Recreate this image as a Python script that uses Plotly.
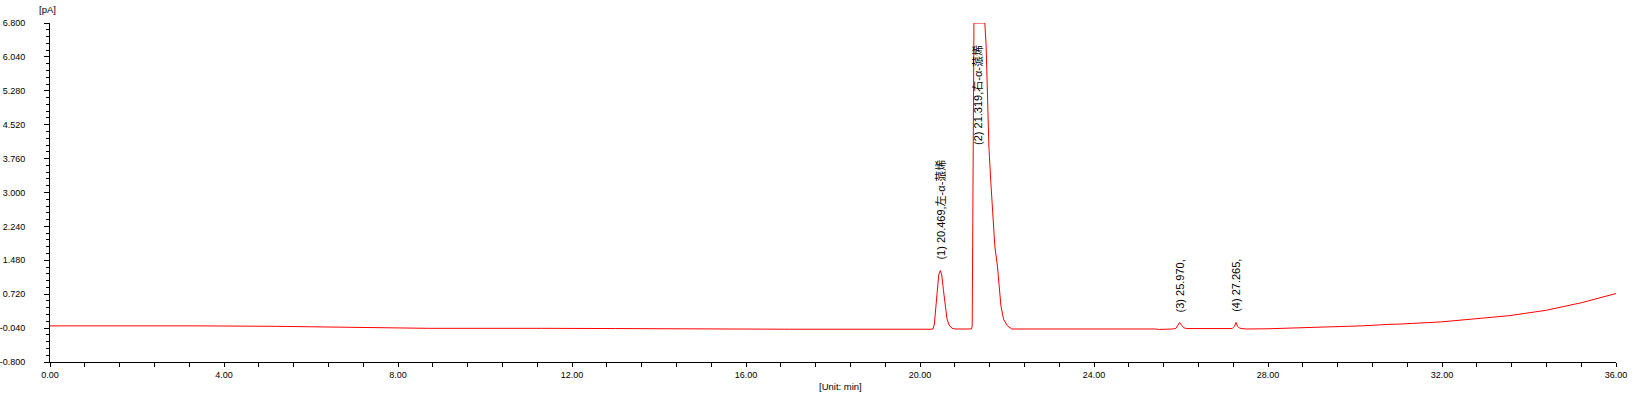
import plotly.graph_objects as go

# ---- data ----
time_min = [
    0.0, 1.0, 2.0, 3.3, 3.35, 3.4, 5.2, 6.6, 7.0, 8.0, 8.7, 10.0, 11.0, 11.3, 13.0, 15.2, 17.0, 20.25,
    20.30, 20.33, 20.36, 20.40, 20.43, 20.469, 20.50, 20.54, 20.58, 20.62, 20.67, 20.73, 20.80,
    21.18, 21.20, 21.21, 21.22, 21.24, 21.319, 21.49, 21.52, 21.55, 21.585, 21.63, 21.67, 21.72,
    21.78, 21.82, 21.86, 21.92, 22.01, 22.11,
    23.3, 23.4, 23.5, 25.4, 25.5, 25.7, 25.8,
    25.88, 25.93, 25.97, 26.01, 26.06, 26.12, 26.3,
    27.18, 27.23, 27.265, 27.30, 27.35, 27.40, 27.5, 28.0,
    28.74, 29.58, 30.18, 30.76, 31.03, 31.99, 32.8, 33.56, 34.4, 35.21, 36.0,
]
signal_pA = [
    0.01, 0.01, 0.01, 0.01, 0.02, 0.01, 0.0, -0.02, -0.02, -0.03, -0.045, -0.045, -0.04, -0.045, -0.05, -0.065, -0.065, -0.065,
    -0.06, 0.05, 0.35, 0.85, 1.15, 1.25, 1.15, 0.80, 0.42, 0.17, 0.03, -0.04, -0.06,
    -0.06, 0.0, 2.0, 5.0, 6.8, 6.8, 6.8, 6.3, 5.1, 4.0, 3.2, 2.55, 1.8,
    1.35, 0.9, 0.46, 0.16, 0.01, -0.06,
    -0.06, -0.05, -0.06, -0.06, -0.07, -0.07, -0.06,
    -0.05, 0.02, 0.087, 0.03, -0.03, -0.05, -0.05,
    -0.05, 0.0, 0.087, 0.0, -0.04, -0.05, -0.06, -0.055,
    -0.035, -0.002, 0.011, 0.043, 0.05, 0.10, 0.17, 0.24, 0.36, 0.53, 0.735,
]

peak_labels = ["(1) 20.469,左-α-蒎烯", "(2) 21.319,右-α-蒎烯", "(3) 25.970,", "(4) 27.265,"]
peak_times = [20.469, 21.319, 25.970, 27.265]
peak_label_base = [1.46, 4.03, 0.27, 0.27]

x_tick_vals = [0, 4, 8, 12, 16, 20, 24, 28, 32, 36]
x_tick_labels = ["0.00", "4.00", "8.00", "12.00", "16.00", "20.00", "24.00", "28.00", "32.00", "36.00"]
y_tick_vals = [-0.8, -0.04, 0.72, 1.48, 2.24, 3.0, 3.76, 4.52, 5.28, 6.04, 6.8]
y_tick_labels = ["-0.800", "-0.040", "0.720", "1.480", "2.240", "3.000", "3.760", "4.520", "5.280", "6.040", "6.800"]

FONT = "Liberation Sans, Arial, Noto Sans CJK SC, sans-serif"

fig = go.Figure()
fig.add_trace(go.Scatter(
    x=time_min, y=signal_pA, mode="lines",
    line=dict(color="#ff0000", width=1), hoverinfo="skip", showlegend=False,
))

for txt, t, yb in zip(peak_labels, peak_times, peak_label_base):
    fig.add_annotation(
        x=t, y=yb, xref="x", yref="y", text=txt, showarrow=False,
        textangle=-90, xanchor="center", yanchor="bottom",
        font=dict(family=FONT, size=11, color="#000000"),
    )

fig.add_annotation(x=-0.0013, y=1.041, xref="paper", yref="paper", text="[pA]",
                   showarrow=False, xanchor="center", yanchor="middle",
                   font=dict(family=FONT, size=9.5, color="#000000"))
fig.add_annotation(x=0.5045, y=-0.0708, xref="paper", yref="paper", text="[Unit: min]",
                   showarrow=False, xanchor="center", yanchor="middle",
                   font=dict(family=FONT, size=9.5, color="#000000"))

fig.update_layout(
    width=1636, height=397,
    margin=dict(l=50, r=20, t=23, b=35, pad=0, autoexpand=False),
    paper_bgcolor="white", plot_bgcolor="white",
    font=dict(family=FONT, size=9, color="#000000"),
    xaxis=dict(
        range=[0, 36], showgrid=False, zeroline=False, automargin=False,
        showline=True, linecolor="black", linewidth=1,
        ticks="outside", ticklen=4, tickwidth=1, tickcolor="black",
        tickmode="array", tickvals=x_tick_vals, ticktext=x_tick_labels,
        tickfont=dict(family=FONT, size=9, color="#000000"),
        minor=dict(ticks="outside", ticklen=4, tickwidth=1, tickcolor="black",
                   tickmode="linear", tick0=0, dtick=0.8, showgrid=False),
    ),
    yaxis=dict(
        range=[-0.8, 6.8], showgrid=False, zeroline=False, automargin=False,
        showline=True, linecolor="black", linewidth=1,
        ticks="outside", ticklen=5, tickwidth=1, tickcolor="black",
        tickmode="array", tickvals=y_tick_vals, ticktext=y_tick_labels,
        tickfont=dict(family=FONT, size=9, color="#000000"),
        ticklabelstandoff=17,
        minor=dict(ticks="outside", ticklen=3, tickwidth=1, tickcolor="black",
                   tickmode="linear", tick0=-0.8, dtick=0.152, showgrid=False),
    ),
)

fig.write_html("out.html", config={"displayModeBar": False},
               post_script="document.body.style.margin='0';")
